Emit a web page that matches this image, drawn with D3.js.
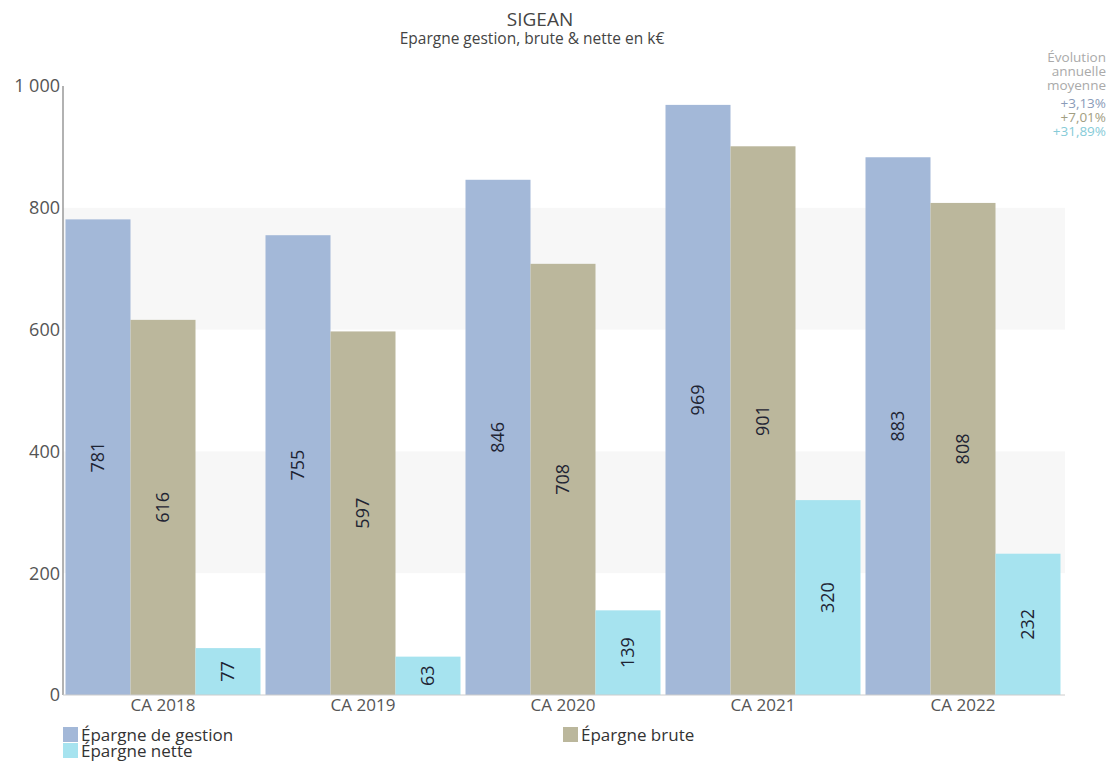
<!DOCTYPE html>
<html lang="fr">
<head>
<meta charset="UTF-8">
<title>SIGEAN - Epargne</title>
<script src="https://d3js.org/d3.v7.min.js"></script>
<style>
  body { margin: 0; background: #fff; font-family: "Open Sans", "Noto Sans", sans-serif; }
  svg text { fill: #444; }
</style>
</head>
<body>
<svg id="chart" width="1109" height="761"></svg>
<script>
const years = ["CA 2018", "CA 2019", "CA 2020", "CA 2021", "CA 2022"];
const seriesNames = ["Épargne de gestion", "Épargne brute", "Épargne nette"];
const gestion = [781, 755, 846, 969, 883];
const brute = [616, 597, 708, 901, 808];
const nette = [77, 63, 139, 320, 232];
const evolution = ["+3,13%", "+7,01%", "+31,89%"];
const yTicks = [0, 200, 400, 600, 800, 1000];
const colors = ["#a3b8d8", "#bbb79c", "#a6e3ef"];
const evoColors = ["#8a9bb8", "#a29e82", "#86cbd8"];

const svg = d3.select("#chart");
const margin = { top: 86, right: 46, bottom: 66, left: 63 };
const width = 1109 - margin.left - margin.right;
const height = 761 - margin.top - margin.bottom;

const g = svg.append("g").attr("transform", `translate(${margin.left},${margin.top})`);

const x = d3.scaleBand().domain(years).range([0, width]).paddingInner(0.025).paddingOuter(0.0125);
const xs = d3.scaleBand().domain(seriesNames).range([0, x.bandwidth()]);
const y = d3.scaleLinear().domain([0, 1000]).range([height, 0]);

// alternating bands
const bands = [[200, 400], [600, 800]];
g.selectAll("rect.band").data(bands).enter().append("rect")
  .attr("class", "band")
  .attr("x", 0).attr("width", width + 2)
  .attr("y", d => y(d[1])).attr("height", d => y(d[0]) - y(d[1]))
  .attr("fill", "#f7f7f7");

// bars
const rows = years.map((yr, i) => ({ year: yr, values: [gestion[i], brute[i], nette[i]] }));
const grp = g.selectAll("g.grp").data(rows).enter().append("g")
  .attr("transform", d => `translate(${x(d.year)},0)`);

grp.selectAll("rect").data(d => d.values.map((v, j) => ({ v, s: seriesNames[j], j })))
  .enter().append("rect")
  .attr("x", d => xs(d.s)).attr("width", xs.bandwidth())
  .attr("y", d => y(d.v)).attr("height", d => height - y(d.v))
  .attr("fill", d => colors[d.j]);

grp.selectAll("text").data(d => d.values.map((v, j) => ({ v, s: seriesNames[j], j })))
  .enter().append("text")
  .attr("transform", d => `translate(${xs(d.s) + xs.bandwidth() / 2},${(y(d.v) + height) / 2}) rotate(-90)`)
  .attr("text-anchor", "middle").attr("dy", "0.35em")
  .style("font-size", "18px").style("fill", "#1e2433")
  .text(d => d.v);

// axes
g.append("line").attr("x1", 0).attr("x2", 0).attr("y1", 0).attr("y2", height)
  .attr("stroke", "#999").attr("stroke-width", 1.5);
g.append("line").attr("x1", 0).attr("x2", width + 2).attr("y1", height).attr("y2", height)
  .attr("stroke", "#ccc").attr("stroke-width", 1);

const fmt = v => d3.format(",")(v).replace(",", " ");
g.selectAll("text.ytick").data(yTicks).enter().append("text")
  .attr("class", "ytick")
  .attr("x", -3).attr("y", d => y(d)).attr("dy", "0.35em")
  .attr("text-anchor", "end").style("font-size", "18px").style("fill", "#555")
  .text(fmt);

g.selectAll("text.xtick").data(years).enter().append("text")
  .attr("class", "xtick")
  .attr("x", d => x(d) + x.bandwidth() / 2).attr("y", height + 16)
  .attr("text-anchor", "middle").style("font-size", "17px").style("fill", "#555")
  .text(d => d);

// title
svg.append("text").attr("x", 540).attr("y", 26).attr("text-anchor", "middle")
  .style("font-size", "19px").text("SIGEAN");
svg.append("text").attr("x", 532).attr("y", 44).attr("text-anchor", "middle")
  .style("font-size", "15.5px").text("Epargne gestion, brute & nette en k€");

// annotation
const ann = svg.append("g").attr("text-anchor", "end").style("font-size", "13.5px");
["Évolution", "annuelle", "moyenne"].forEach((t, i) => {
  ann.append("text").attr("x", 1106).attr("y", 62 + i * 14).style("fill", "#aaa").text(t);
});
evolution.forEach((t, i) => {
  ann.append("text").attr("x", 1106).attr("y", 108 + i * 14).style("fill", evoColors[i]).text(t);
});

// legend
const legendPos = [[63, 735], [563, 735], [63, 751]];
const leg = svg.selectAll("g.leg").data(seriesNames).enter().append("g")
  .attr("transform", (d, i) => `translate(${legendPos[i][0]},${legendPos[i][1]})`);
leg.append("rect").attr("x", 0).attr("y", -8).attr("width", 15).attr("height", 15)
  .attr("fill", (d, i) => colors[i]);
leg.append("text").attr("x", 18).attr("y", 0).attr("dy", "0.35em")
  .style("font-size", "17px").style("fill", "#333").text(d => d);
</script>
</body>
</html>
